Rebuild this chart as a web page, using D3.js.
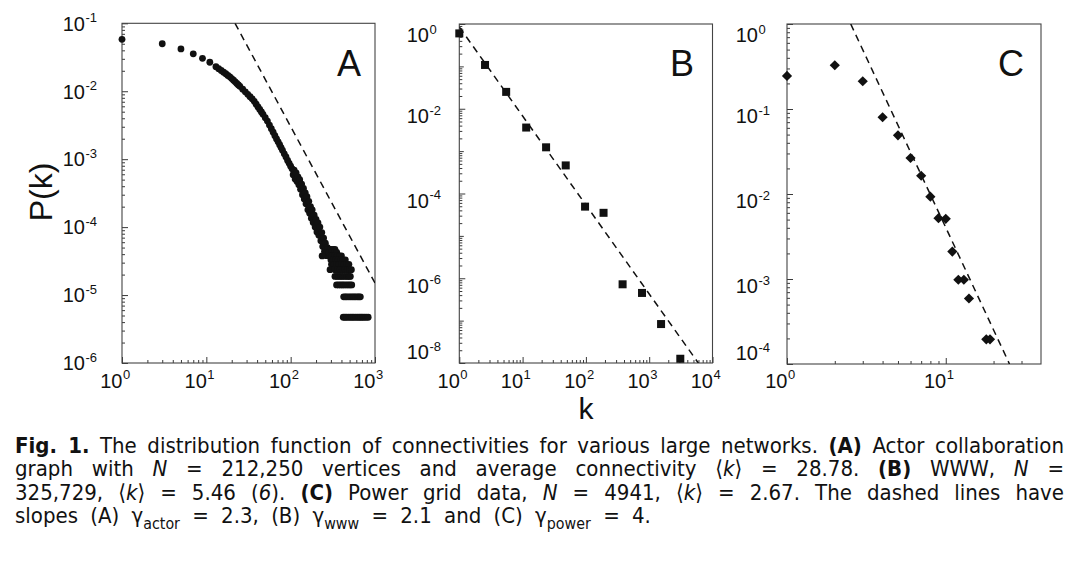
<!DOCTYPE html>
<html><head><meta charset="utf-8">
<script src="https://cdn.jsdelivr.net/npm/d3@7"></script>
<style>
body{margin:0;background:#fff;width:1080px;height:572px;overflow:hidden;position:relative}
svg{position:absolute;left:0;top:0}
#cap{position:absolute;left:15px;top:434px;width:1049px;font-family:"DejaVu Sans Condensed","Liberation Sans Narrow","DejaVu Sans",sans-serif;font-stretch:condensed;font-size:22px;line-height:23.3px;color:#111}
.ln{white-space:nowrap;text-align:justify;text-align-last:justify}
.ln.last{text-align-last:left;text-align:left;word-spacing:6px}
sub{font-size:0.72em;vertical-align:-0.35em;line-height:0}
</style></head><body>
<svg id="chart" width="1080" height="572"></svg>
<div id="cap"></div>
<script>
// ---------- DATA ----------
// (A) actor collaboration graph: main curve and scattered band
const actorK = [1,3,5,7,9,11,13,14,15,16,17,18,19,20,21,22,23,24,25,27,29,31,33,35,37,39,41,43,45,47,50,53,56,59,62,65,68,71,74,77,80,84,88,92,96,100,
  104,107,110,113,116,119,122,125,128,131,135,138,142,145,149,152,156,160,164,168,172,176,180,185,190,195,200,205,211,216,222,228,234,240,246,252,258,265,272,280,290,300];
const actorP = [0.058,0.050,0.042,0.0355,0.0305,0.0267,0.0230,0.0215,0.0202,0.0191,0.0181,0.0171,0.0163,0.01535,0.01452,0.01374,0.01303,0.0124,0.0118,0.01074,0.0098,0.00901,0.0083,0.00773,0.00711,0.00644,0.00587,0.0054,0.00496,0.00458,0.00408,0.00364,0.00318,0.00281,0.00249,0.00222,0.00199,0.0018,0.00163,0.00148,0.00135,0.0012,0.00108,0.00096,0.00087,0.00079,
  7.2e-4,5.9e-4,6.9e-4,5.1e-4,6.3e-4,4.7e-4,5.5e-4,4.2e-4,5.0e-4,3.6e-4,4.3e-4,3.0e-4,3.7e-4,2.6e-4,3.2e-4,2.2e-4,2.8e-4,1.8e-4,2.4e-4,1.6e-4,2.0e-4,1.35e-4,1.8e-4,1.17e-4,1.5e-4,1.0e-4,1.3e-4,8.5e-5,1.15e-4,7.6e-5,1.0e-4,6.3e-5,8.3e-5,5.2e-5,6.9e-5,4.4e-5,5.8e-5,3.8e-5,5.0e-5,4.4e-5,4.7e-5,4.2e-5];
// (A) tail: rows of equal P (few actors each) and their k values
const actorRowP = [4.71e-5,4.24e-5,3.77e-5,3.30e-5,2.83e-5,2.36e-5,1.88e-5,1.41e-5,9.42e-6,4.71e-6];
const actorRowK = [
  [262,275,300,318,335],
  [268,285,305,330,352],
  [236,292,310,330,355,380,400],
  [300,318,340,365,392,420,445],
  [305,325,350,375,400,430,460,490],
  [293,335,360,385,410,440,470,500,525],
  [335,355,375,395,415,440,465,490,510],
  [350,370,390,410,430,455,480,505,530],
  [425,445,465,490,515,540,565,590,620,645,670],
  [420,440,460,485,510,535,560,590,620,650,680,710,745,785,830]
];
// (B) WWW
const wwwK = [1,2.55,5.5,11.4,23.5,48,97,190,380,770,1540,3100];
const wwwP = [0.6,0.108,0.025,0.0036,0.00123,4.6e-4,4.9e-5,3.5e-5,7.2e-7,4.5e-7,8.3e-8,1.26e-8];
// (C) power grid
const powerK = [1,2,3,4,5,6,7,8,9,10,11,12,13,14,18,19];
const powerP = [0.245,0.327,0.212,0.08,0.049,0.0265,0.0164,0.0093,0.0052,0.0051,0.0021,0.00098,0.00098,0.00059,1.95e-4,1.95e-4];
// dashed power-law guide lines (endpoints)
const slopeA = [[21.9,0.1],[1000,1.5e-5]];
const slopeB = [[1,0.85],[5970,1e-8]];
const slopeC = [[2.52,1],[25.2,1e-4]];
// tick label exponents
const xExpA = [0,1,2,3], yExpA = [-1,-2,-3,-4,-5,-6];
const xExpB = [0,1,2,3,4], yExpB = [0,-2,-4,-6,-8];
const xExpC = [0,1], yExpC = [0,-1,-2,-3,-4];
const panelLetters = ["A","B","C"];
const axisTitleY = "P(k)", axisTitleX = "k";
const captionLines = [
  '<b>Fig. 1.</b> The distribution function of connectivities for various large networks. <b>(A)</b> Actor collaboration',
  'graph with <i>N</i> = 212,250 vertices and average connectivity \u27E8<i>k</i>\u27E9 = 28.78. <b>(B)</b> WWW, <i>N</i> =',
  '325,729, \u27E8<i>k</i>\u27E9 = 5.46 (<i>6</i>). <b>(C)</b> Power grid data, <i>N</i> = 4941, \u27E8<i>k</i>\u27E9 = 2.67. The dashed lines have',
  'slopes (A) \u03B3<sub>actor</sub> = 2.3, (B) \u03B3<sub>www</sub> = 2.1 and (C) \u03B3<sub>power</sub> = 4.'
];

// ---------- LAYOUT ----------
const actorPts = actorK.map((k,i)=>[k,actorP[i]]);
actorRowK.forEach((ks,j)=>ks.forEach(k=>actorPts.push([k,actorRowP[j]])));
const panels = [
  {kDom:[1,1000], pDom:[1e-6,1e-1], xr:[122,375], yr:[363,23.3], xExp:xExpA, yExp:yExpA,
   pts:actorPts, mark:'circle', slope:slopeA, yLabEnd:85, yOff:0, clampLab:false, letterX:337},
  {kDom:[1,1e4], pDom:[1e-8,1], xr:[459.3,712.5], yr:[363,24], xExp:xExpB, yExp:yExpB,
   pts:wwwK.map((k,i)=>[k,wwwP[i]]), mark:'square', slope:slopeB, yLabEnd:429, yOff:7, clampLab:true, letterX:670},
  {kDom:[1,39.8], pDom:[1e-4,1], xr:[787,1041], yr:[364,24], xExp:xExpC, yExp:yExpC,
   pts:powerK.map((k,i)=>[k,powerP[i]]), mark:'diamond', slope:slopeC, yLabEnd:758, yOff:7, clampLab:true, letterX:998}
];

const svg = d3.select('#chart');
const FONT = '"Liberation Sans", Arial, Helvetica, sans-serif';
const INK = '#111';

function logTicks(dom){
  const lo = Math.floor(Math.log10(dom[0])-1e-9), hi = Math.ceil(Math.log10(dom[1])+1e-9);
  const out = [];
  for(let n=lo;n<=hi;n++) for(let m=1;m<=9;m++){
    const v = m*Math.pow(10,n);
    if(v>=dom[0]*0.999 && v<=dom[1]*1.001) out.push({v, m, n});
  }
  return out;
}

panels.forEach((p,pi)=>{
  const x = d3.scaleLog().domain(p.kDom).range(p.xr);
  const y = d3.scaleLog().domain(p.pDom).range(p.yr);
  const g = svg.append('g');
  const clipId = 'clip'+pi;
  svg.append('clipPath').attr('id',clipId).append('rect')
    .attr('x',p.xr[0]).attr('y',p.yr[1]).attr('width',p.xr[1]-p.xr[0]).attr('height',p.yr[0]-p.yr[1]);

  // ticks via d3 axes (inward)
  const xt = logTicks(p.kDom), yt = logTicks(p.pDom);
  const xLab = new Set(p.xExp), yLab = new Set(p.yExp);
  const len = (t,lab)=> t.m===1 ? (lab.has(t.n)?6:4.5) : 3;
  [6,4.5,3].forEach(L=>{
    const xv = xt.filter(t=>len(t,xLab)===L).map(t=>t.v);
    const yv = yt.filter(t=>len(t,yLab)===L).map(t=>t.v);
    const ax = g.append('g').attr('transform',`translate(0,${p.yr[0]})`)
      .call(d3.axisBottom(x).tickValues(xv).tickSize(-L).tickFormat(''));
    const ay = g.append('g').attr('transform',`translate(${p.xr[0]},0)`)
      .call(d3.axisLeft(y).tickValues(yv).tickSize(-L).tickFormat(''));
    [ax,ay].forEach(a=>{a.select('.domain').remove(); a.selectAll('line').attr('stroke','#222').attr('stroke-width',0.9);});
  });

  // frame
  g.append('rect').attr('x',p.xr[0]).attr('y',p.yr[1]).attr('width',p.xr[1]-p.xr[0]).attr('height',p.yr[0]-p.yr[1])
    .attr('fill','none').attr('stroke','#444').attr('stroke-width',1.1);

  // x tick labels
  p.xExp.forEach(e=>{
    const tx = x(Math.pow(10,e));
    g.append('text').attr('x',tx+0.5).attr('y',388).attr('text-anchor','end')
      .attr('font-family',FONT).attr('font-size',20).attr('fill',INK).text('10');
    g.append('text').attr('x',tx+1).attr('y',379).attr('text-anchor','start')
      .attr('font-family',FONT).attr('font-size',13).attr('fill',INK).text(String(e));
  });
  // y tick labels
  p.yExp.forEach(e=>{
    let cy = y(Math.pow(10,e)) + p.yOff;
    if(p.clampLab) cy = Math.max(p.yr[1]+11, Math.min(p.yr[0]-11, cy));
    const base = cy + 7.3;
    g.append('text').attr('x',p.yLabEnd).attr('y',base).attr('text-anchor','end')
      .attr('font-family',FONT).attr('font-size',20).attr('fill',INK).text('10');
    g.append('text').attr('x',p.yLabEnd+0.5).attr('y',base-8.5).attr('text-anchor','start')
      .attr('font-family',FONT).attr('font-size',13).attr('fill',INK).text(String(e));
  });

  // dashed guide
  g.append('path').attr('clip-path',`url(#${clipId})`)
    .attr('d', d3.line().x(d=>x(d[0])).y(d=>y(d[1]))(p.slope))
    .attr('fill','none').attr('stroke',INK).attr('stroke-width',1.5).attr('stroke-dasharray','7,5');

  // markers
  const m = g.append('g').attr('fill',INK);
  if(p.mark==='circle'){
    m.selectAll('circle').data(p.pts).join('circle').attr('cx',d=>x(d[0])).attr('cy',d=>y(d[1])).attr('r',3.4);
  } else if(p.mark==='square'){
    m.selectAll('rect').data(p.pts).join('rect').attr('x',d=>x(d[0])-4).attr('y',d=>y(d[1])-4).attr('width',8).attr('height',8);
  } else {
    const sym = d3.symbol().type(d3.symbolSquare).size(52);
    m.selectAll('path').data(p.pts).join('path').attr('d',sym)
      .attr('transform',d=>`translate(${x(d[0])},${y(d[1])}) rotate(45)`);
  }

  // panel letter
  g.append('text').attr('x',p.letterX).attr('y',76).attr('font-family',FONT).attr('font-size',36).attr('fill',INK).text(panelLetters[pi]);
});

// axis titles
svg.append('text').attr('transform','translate(52,192) rotate(-90)').attr('text-anchor','middle')
  .attr('font-family',FONT).attr('font-size',32).attr('fill',INK).text(axisTitleY);
svg.append('text').attr('x',586).attr('y',419).attr('text-anchor','middle')
  .attr('font-family',FONT).attr('font-size',30).attr('fill',INK).text(axisTitleX);

// caption
const cap = d3.select('#cap');
captionLines.forEach((t,i)=>cap.append('div').attr('class','ln'+(i===captionLines.length-1?' last':'')).html(t));
</script>
</body></html>
